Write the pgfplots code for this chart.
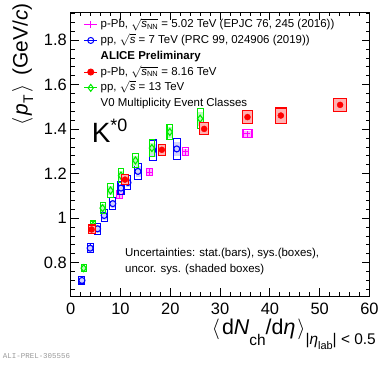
\documentclass[border=0pt]{standalone}
\usepackage{pgfplots}
\usepackage{pgfplotstable}
\pgfplotsset{compat=1.18}
\usepackage{fontspec}
\setmainfont{Liberation Sans}
\setmonofont{Liberation Mono}
\definecolor{rmag}{RGB}{255,0,255}
\definecolor{rblue}{RGB}{0,0,255}
\definecolor{rred}{RGB}{255,0,0}
\definecolor{rgreen}{RGB}{0,235,0}

\pgfdeclareplotmark{nothing}{}

% p-Pb 5.02 TeV
\pgfplotstableread{
x y stat sys unc w
4.3 0.949 0.006 0.018 0.012 3.5
9.8 1.105 0.006 0.017 0.012 3.0
15.9 1.207 0.005 0.017 0.012 3.0
23.1 1.299 0.005 0.017 0.012 3.0
35.5 1.379 0.006 0.018 0.013 4.5
}\magtab
% pp 7 TeV
\pgfplotstableread{
x y stat sys unc w
2.26 0.720 0.022 0.016 0.010 3.0
3.9 0.865 0.020 0.020 0.012 3.0
5.4 0.952 0.016 0.024 0.014 3.0
6.72 1.012 0.014 0.026 0.016 3.0
8.45 1.065 0.014 0.026 0.016 3.0
10.1 1.135 0.012 0.028 0.018 3.0
11.5 1.160 0.012 0.030 0.018 3.0
13.5 1.210 0.012 0.036 0.022 3.2
16.5 1.305 0.012 0.046 0.028 3.5
21.3 1.311 0.015 0.046 0.028 3.7
}\bluetab
% pp 13 TeV
\pgfplotstableread{
x y stat sys unc w
2.6 0.775 0.014 0.015 0.010 2.5
4.5 0.967 0.014 0.020 0.012 2.5
6.4 1.045 0.014 0.025 0.016 2.5
8.0 1.124 0.016 0.030 0.018 2.6
10.1 1.191 0.016 0.030 0.018 2.6
13.0 1.259 0.014 0.033 0.020 2.8
16.3 1.315 0.012 0.037 0.022 2.8
19.9 1.387 0.012 0.034 0.022 2.8
26.0 1.447 0.014 0.045 0.028 2.9
}\greentab
% p-Pb 8.16 TeV
\pgfplotstableread{
x y stat sys unc w xe
4.2 0.949 0.010 0.020 0.017 3.5 0.7
10.9 1.173 0.010 0.022 0.019 3.5 0.7
18.3 1.307 0.010 0.024 0.021 3.8 0.76
26.8 1.401 0.012 0.027 0.024 4.2 0.84
35.5 1.454 0.015 0.028 0.025 5.2 1.04
42.2 1.461 0.020 0.034 0.031 5.5 1.1
54.1 1.509 0.014 0.030 0.027 6.2 1.24
}\redtab

\pgfplotsset{
  boxes/.style n args={3}{forget plot, only marks, scatter, mark=nothing,
    visualization depends on={222.5*\thisrow{sys} \as \sysh},
    visualization depends on={222.5*\thisrow{unc} \as \uch},
    visualization depends on={\thisrow{w} \as \boxw},
    scatter/@pre marker code/.code={%
      \fill[#2] (-\boxw bp+#3,-\uch bp) rectangle (\boxw bp-#3,\uch bp);%
      \draw[#1, line width=1.05bp] (-\boxw bp,-\sysh bp) rectangle (\boxw bp,\sysh bp);},
    scatter/@post marker code/.code={}},
}

\begin{document}
\begin{tikzpicture}
\begin{axis}[
  scale only axis,
  width=298.8bp, height=283.7bp,
  xmin=0, xmax=60, ymin=0.65, ymax=1.925,
  xtick={0,10,...,60}, minor x tick num=4,
  ytick={0.8,1,1.2,1.4,1.6,1.8},
  minor ytick={0.68,0.72,0.76,0.84,0.88,0.92,0.96,1.04,1.08,1.12,1.16,1.24,1.28,1.32,1.36,1.44,1.48,1.52,1.56,1.64,1.68,1.72,1.76,1.84,1.88,1.92},
  tick align=inside,
  major tick length=8bp, minor tick length=4bp,
  every tick/.style={black, line width=0.8bp},
  axis line style={line width=0.9bp},
  /pgf/number format/assume math mode=true,
  tick label style={font=\fontsize{16.5}{18}\selectfont},
  xticklabel style={inner sep=0bp, yshift=-6.5bp},
  yticklabel style={inner sep=0bp, xshift=-3.7bp},
  legend cell align=left,
  legend image code/.code={\draw[#1, mark repeat=2, mark phase=2] plot coordinates {(0bp,0bp) (6.5bp,0bp) (13bp,0bp)};},
  legend style={draw=none, fill=none, at={(rel axis cs:0.043,0.985)}, anchor=north west,
    inner sep=0pt, column sep=1.5bp, row sep=0bp,
    font=\fontsize{11.5}{13}\selectfont,
    nodes={text height=9.5bp, text depth=3.3bp, inner sep=1.5bp}},
  clip=false,
]
\addlegendimage{rmag, mark=+, mark size=3.5bp, line width=1bp}
\addlegendentry{p-Pb, $\sqrt{\mbox{\textit{s}}_{\mbox{\fontsize{7.5}{8}\selectfont NN}}}$ = 5.02 TeV (EPJC 76, 245 (2016))}
\addlegendimage{rblue, mark=o, mark size=3bp, line width=1bp}
\addlegendentry{pp, $\sqrt{\mbox{\textit{s}}}$ = 7 TeV (PRC 99, 024906 (2019))}
\addlegendimage{empty legend}
\addlegendentry{\textbf{ALICE Preliminary}}
\addlegendimage{rred, mark=*, mark size=3bp, line width=1bp}
\addlegendentry{p-Pb, $\sqrt{\mbox{\textit{s}}_{\mbox{\fontsize{7.5}{8}\selectfont NN}}}$ = 8.16 TeV}
\addlegendimage{rgreen, mark=diamond, mark size=3.5bp, line width=1bp}
\addlegendentry{pp, $\sqrt{\mbox{\textit{s}}}$ = 13 TeV}
\addlegendimage{empty legend}
\addlegendentry{V0 Multiplicity Event Classes}

% ---- magenta
\addplot[boxes={rmag}{rmag!30}{0.5bp}] table[x=x,y=y] {\magtab};
\addplot[forget plot, only marks, mark=+, mark size=3bp, color=rmag, mark options={line width=1bp},
  error bars/.cd, y dir=both, y explicit, error mark=none, error bar style={line width=1bp}]
  table[x=x,y=y,y error=stat] {\magtab};
% ---- blue
\addplot[boxes={rblue}{rblue!18}{1bp}] table[x=x,y=y] {\bluetab};
\addplot[forget plot, only marks, mark=o, mark size=3bp, color=rblue, mark options={line width=1.1bp},
  error bars/.cd, y dir=both, y explicit, error mark=none, error bar style={line width=1.1bp}]
  table[x=x,y=y,y error=stat] {\bluetab};
% ---- green
\addplot[boxes={rgreen}{rgreen!25}{0.7bp}] table[x=x,y=y] {\greentab};
\addplot[forget plot, only marks, mark=diamond, mark size=3.5bp, color=rgreen, mark options={line width=1.1bp},
  error bars/.cd, y dir=both, y explicit, error mark=none, error bar style={line width=1.1bp}]
  table[x=x,y=y,y error=stat] {\greentab};
% ---- red
\addplot[boxes={rred}{rred!30}{0.3bp}] table[x=x,y=y] {\redtab};
\addplot[forget plot, only marks, mark=*, mark size=3bp, color=rred,
  error bars/.cd, y dir=both, y explicit, x dir=both, x explicit, error mark=none, error bar style={line width=1bp}]
  table[x=x,y=y,y error=stat,x error=xe] {\redtab};

\node[anchor=base west, inner sep=0pt, font=\fontsize{28}{30}\selectfont] at (axis cs:4.2,1.342) {K\raisebox{0.72ex}{\fontsize{18}{19}\selectfont *0}};
\node[anchor=base west, inner sep=0pt, font=\fontsize{11.5}{13}\selectfont] at (axis cs:10.9,0.828) {Uncertainties: stat.(bars), sys.(boxes),};
\node[anchor=base west, inner sep=0pt, font=\fontsize{11.5}{13}\selectfont] at (axis cs:10.9,0.756) {uncor. sys. (shaded boxes)};

\node[rotate=90, anchor=north east, inner sep=0pt, font=\fontsize{21}{22}\selectfont]
  at ([xshift=-58.7bp,yshift=9bp]rel axis cs:0,1)
  {$\langle$\hspace{2.5bp}\textit{p}\raisebox{-0.5ex}{\fontsize{14}{15}\selectfont T}\hspace{2.5bp}$\rangle$\hspace{3bp} (GeV/\textit{c})};
\node[anchor=north east, inner sep=0pt]
  at ([xshift=6.5bp,yshift=-23bp]rel axis cs:1,0)
  {{\fontsize{21.5}{22}\selectfont $\langle$\hspace{2bp}d\textit{N}\raisebox{-0.5em}{\fontsize{15.5}{16}\selectfont ch}/d\textit{η}\hspace{2bp}$\rangle$}\raisebox{-0.95em}{\fontsize{15.5}{16}\selectfont |\textit{η}\raisebox{-0.35em}{\fontsize{11}{12}\selectfont lab}| < 0.5}};
\end{axis}
\node[anchor=west, inner sep=0pt, text=black!40, font=\ttfamily\fontsize{7.5}{8}\selectfont] at (-68bp,-60bp) {ALI-PREL-305556};
\path (-70.7bp,-69bp) rectangle (308.3bp,296bp);
\end{tikzpicture}
\end{document}
